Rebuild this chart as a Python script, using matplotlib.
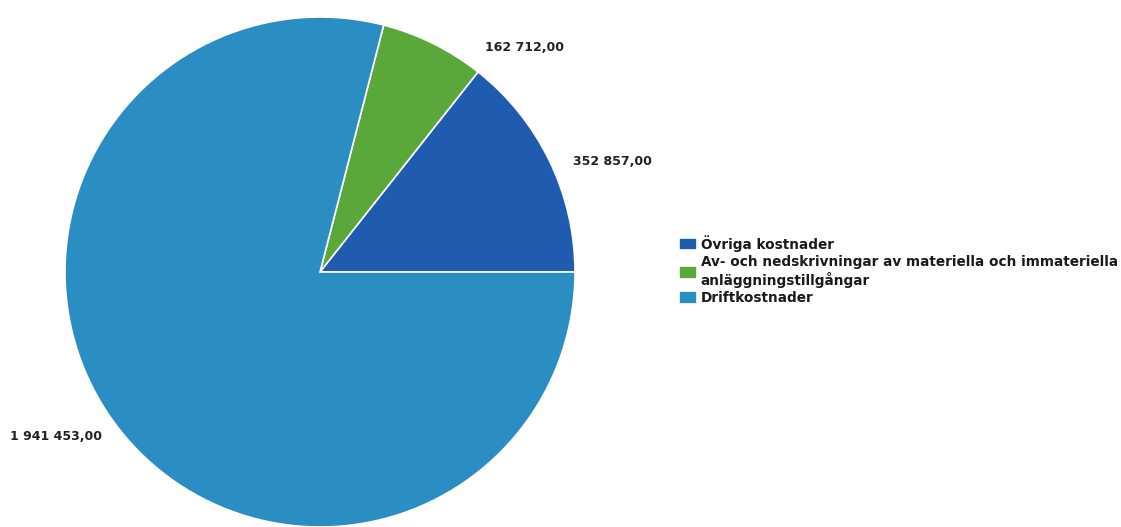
import numpy as np
import matplotlib.pyplot as plt

CATEGORIES = [
    "Övriga kostnader",
    "Av- och nedskrivningar av materiella och immateriella\nanläggningstillgångar",
    "Driftkostnader",
]
VALUES = [352857.00, 162712.00, 1941453.00]
VALUE_LABELS = ["352 857,00", "162 712,00", "1 941 453,00"]
COLORS = ["#1f5cb0", "#5aa83a", "#2a8ec2"]

fig = plt.figure(figsize=(11.21, 5.27), dpi=100)
ax = fig.add_axes([65 / 1121, 0.0, 510 / 1121, 510 / 527])

wedges, _ = ax.pie(
    VALUES,
    colors=COLORS,
    startangle=0,
    counterclock=True,
    wedgeprops=dict(edgecolor="white", linewidth=1.2),
)
ax.set_xlim(-1, 1)
ax.set_ylim(-1, 1)
ax.set_aspect("equal")

# value labels next to each slice (axes fraction positions)
label_pos = [(0.996, 0.716), (0.824, 0.941), (-0.108, 0.178)]
for (x, y), txt in zip(label_pos, VALUE_LABELS):
    ax.text(x, y, txt, transform=ax.transAxes, ha="left", va="center",
            fontsize=9, fontweight="bold", color="#222222", clip_on=False)

leg = fig.legend(
    wedges,
    CATEGORIES,
    loc="upper left",
    bbox_to_anchor=(679 / 1121, 1 - 235 / 527),
    frameon=False,
    fontsize=9.8,
    handlelength=1.3,
    handleheight=1.05,
    handletextpad=0.3,
    labelspacing=0.25,
    borderpad=0,
    borderaxespad=0,
)
for t in leg.get_texts():
    t.set_fontweight("bold")
    t.set_color("#1a1a1a")
    t.set_linespacing(1.2)

fig.savefig("out.png", dpi=100)
